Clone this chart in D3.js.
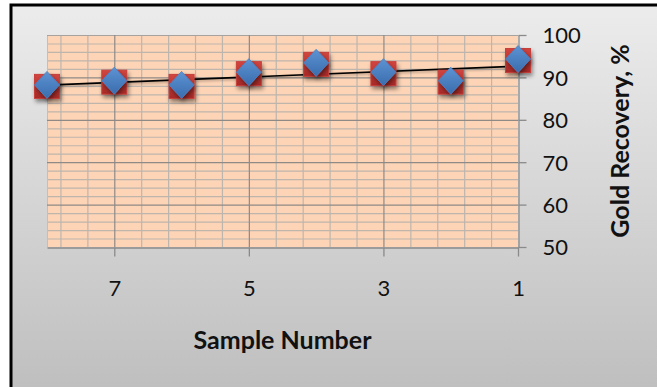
<!DOCTYPE html>
<html>
<head>
<meta charset="utf-8">
<script src="https://cdn.jsdelivr.net/npm/d3@7/dist/d3.min.js"></script>
<style>
  html, body { margin: 0; padding: 0; background: #fff; }
  svg { display: block; }
</style>
</head>
<body>
<svg id="chart" width="657" height="387"></svg>
<script>
// Gold recovery per sample, samples plotted from 8 down to 1
const sampleNumbers = [8, 7, 6, 5, 4, 3, 2, 1];
const recovery = [88.0, 89.0, 88.0, 91.0, 93.2, 91.0, 89.0, 94.1];
const xTickValues = [7, 5, 3, 1];
const yTickValues = [50, 60, 70, 80, 90, 100];
const xTitle = "Sample Number";
const yTitle = "Gold Recovery, %";

const svg = d3.select("#chart");
const W = 657, H = 387;
const plot = { left: 47, right: 518, top: 35, bottom: 247 };

const x = d3.scaleLinear().domain([8, 1]).range([plot.left, plot.right]);
const y = d3.scaleLinear().domain([50, 100]).range([plot.bottom, plot.top]);

const defs = svg.append("defs");
const bg = defs.append("linearGradient").attr("id", "bgGrad")
  .attr("x1", 0).attr("y1", 0).attr("x2", 0).attr("y2", 1);
bg.append("stop").attr("offset", "0%").attr("stop-color", "#ececec");
bg.append("stop").attr("offset", "100%").attr("stop-color", "#bcbcbc");

const sq = defs.append("linearGradient").attr("id", "sqGrad")
  .attr("x1", 0).attr("y1", 0).attr("x2", 0).attr("y2", 1);
sq.append("stop").attr("offset", "0%").attr("stop-color", "#d2453f");
sq.append("stop").attr("offset", "100%").attr("stop-color", "#a82a28");

const dm = defs.append("linearGradient").attr("id", "dmGrad")
  .attr("x1", 0).attr("y1", 0).attr("x2", 0).attr("y2", 1);
dm.append("stop").attr("offset", "0%").attr("stop-color", "#5d93d4");
dm.append("stop").attr("offset", "100%").attr("stop-color", "#3a6dad");

const shadow = defs.append("filter").attr("id", "shadow")
  .attr("x", "-50%").attr("y", "-50%").attr("width", "200%").attr("height", "200%");
shadow.append("feDropShadow").attr("dx", 1.5).attr("dy", 3)
  .attr("stdDeviation", 2.2).attr("flood-color", "#000").attr("flood-opacity", 0.45);

const lineShadow = defs.append("filter").attr("id", "lineShadow")
  .attr("x", "-10%").attr("y", "-200%").attr("width", "120%").attr("height", "500%");
lineShadow.append("feDropShadow").attr("dx", 1).attr("dy", 1.5)
  .attr("stdDeviation", 1).attr("flood-color", "#000").attr("flood-opacity", 0.3);

// Chart frame with gradient fill
svg.append("rect")
  .attr("x", 11).attr("y", 5)
  .attr("width", W + 20).attr("height", H + 20)
  .attr("fill", "url(#bgGrad)")
  .attr("stroke", "#000").attr("stroke-width", 3);

// Plot area
svg.append("rect")
  .attr("x", plot.left).attr("y", plot.top)
  .attr("width", plot.right - plot.left).attr("height", plot.bottom - plot.top)
  .attr("fill", "#fdd4b6");

const grid = svg.append("g");
// minor horizontal gridlines every 2 units
const yMinor = d3.range(52, 100, 2).filter(v => v % 10 !== 0);
grid.selectAll(".hmin").data(yMinor).join("line")
  .attr("x1", plot.left).attr("x2", plot.right)
  .attr("y1", d => y(d) + 0.5).attr("y2", d => y(d) + 0.5)
  .attr("stroke", "#beb5ad").attr("stroke-width", 1.2);
// minor vertical gridlines every 0.4 units
const xMinor = d3.range(1.4, 8.0, 0.4).map(v => +v.toFixed(1))
  .filter(v => Math.abs(v - Math.round(v)) > 0.05 || Math.round(v) % 2 === 0);
grid.selectAll(".vmin").data(xMinor).join("line")
  .attr("y1", plot.top).attr("y2", plot.bottom)
  .attr("x1", d => x(d) + 0.5).attr("x2", d => x(d) + 0.5)
  .attr("stroke", "#beb5ad").attr("stroke-width", 1.2);
grid.append("line")
  .attr("x1", plot.left + 0.5).attr("x2", plot.left + 0.5)
  .attr("y1", plot.top).attr("y2", plot.bottom)
  .attr("stroke", "#c9beb6").attr("stroke-width", 1);
grid.append("line")
  .attr("x1", plot.left).attr("x2", plot.right)
  .attr("y1", plot.top + 0.5).attr("y2", plot.top + 0.5)
  .attr("stroke", "#a8a29e").attr("stroke-width", 1.2);
// major gridlines
grid.selectAll(".hmaj").data(yTickValues.slice(1, -1)).join("line")
  .attr("x1", plot.left).attr("x2", plot.right)
  .attr("y1", d => y(d) + 0.5).attr("y2", d => y(d) + 0.5)
  .attr("stroke", "#8f8a86").attr("stroke-width", 1.2);
grid.selectAll(".vmaj").data(xTickValues.slice(0, -1)).join("line")
  .attr("y1", plot.top).attr("y2", plot.bottom)
  .attr("x1", d => x(d) + 0.5).attr("x2", d => x(d) + 0.5)
  .attr("stroke", "#8f8a86").attr("stroke-width", 1.2);

// Axes
const fmt = d3.format("d");
const yAxis = d3.axisRight(y).tickValues(yTickValues).tickFormat(fmt)
  .tickSize(8).tickSizeOuter(0).tickPadding(16);
const gy = svg.append("g").attr("transform", `translate(${plot.right + 0.5},0)`).call(yAxis);
const xAxis = d3.axisBottom(x).tickValues(xTickValues).tickFormat(fmt)
  .tickSize(9).tickSizeOuter(0).tickPadding(24);
const gx = svg.append("g").attr("transform", `translate(0,${plot.bottom + 0.5})`).call(xAxis);
[gx, gy].forEach(g => {
  g.select(".domain").attr("stroke", "#8a8a8a").attr("stroke-width", 1.3);
  g.selectAll(".tick line").attr("stroke", "#8a8a8a").attr("stroke-width", 1.3);
  g.selectAll(".tick text")
    .attr("fill", "#111")
    .style("font-family", "Lato, 'Open Sans', sans-serif")
    .style("font-size", "22px");
});
gy.selectAll(".tick text").attr("dy", "0.36em");

// Linear trend line (least squares)
const n = sampleNumbers.length;
const mx = d3.mean(sampleNumbers), my = d3.mean(recovery);
let sxy = 0, sxx = 0;
for (let i = 0; i < n; i++) {
  sxy += (sampleNumbers[i] - mx) * (recovery[i] - my);
  sxx += (sampleNumbers[i] - mx) ** 2;
}
const slope = sxy / sxx, intercept = my - slope * mx;
const trendX = d3.extent(sampleNumbers);
svg.append("line")
  .attr("x1", x(trendX[1])).attr("y1", y(intercept + slope * trendX[1]))
  .attr("x2", x(trendX[0])).attr("y2", y(intercept + slope * trendX[0]))
  .attr("stroke", "#000").attr("stroke-width", 1.6)
  .attr("filter", "url(#lineShadow)");

// Markers: square beneath, diamond on top
const pts = sampleNumbers.map((s, i) => ({ s, v: recovery[i] }));
const mk = svg.append("g");
mk.selectAll(".sq").data(pts).join("rect")
  .attr("x", d => x(d.s) - 12.5).attr("y", d => y(d.v) - 11.5)
  .attr("width", 25).attr("height", 24)
  .attr("fill", "url(#sqGrad)")
  .attr("stroke", "#c8403a").attr("stroke-width", 1)
  .attr("filter", "url(#shadow)");
mk.selectAll(".dm").data(pts).join("path")
  .attr("d", d => {
    const cx = x(d.s), cy = y(d.v) - 1;
    return `M${cx},${cy - 13.5}L${cx + 12.5},${cy}L${cx},${cy + 13.5}L${cx - 12.5},${cy}Z`;
  })
  .attr("fill", "url(#dmGrad)")
  .attr("stroke", "#4a82c4").attr("stroke-width", 0.8)
  .attr("filter", "url(#shadow)");

// Axis titles
svg.append("text")
  .attr("x", (plot.left + plot.right) / 2).attr("y", 349)
  .attr("text-anchor", "middle")
  .style("font-family", "Lato, 'Open Sans', sans-serif")
  .style("font-weight", "bold").style("font-size", "25px")
  .attr("fill", "#111")
  .text(xTitle);
svg.append("text")
  .attr("transform", `translate(629,${(plot.top + plot.bottom) / 2}) rotate(-90)`)
  .attr("text-anchor", "middle")
  .style("font-family", "Lato, 'Open Sans', sans-serif")
  .style("font-weight", "bold").style("font-size", "25px")
  .attr("fill", "#111")
  .text(yTitle);
</script>
</body>
</html>
